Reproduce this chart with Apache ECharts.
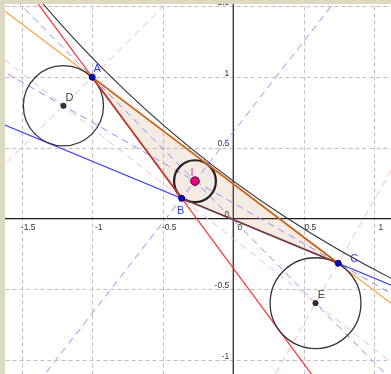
<!DOCTYPE html>
<html>
<head>
<meta charset="utf-8">
<script src="https://cdn.jsdelivr.net/npm/echarts@6/dist/echarts.min.js"></script>
<style>
html,body{margin:0;padding:0;background:#fff;}
#chart{width:391px;height:374px;}
</style>
</head>
<body>
<div id="chart"></div>
<script>
// ---- data ----
const xTicks = [-1.5, -1, -0.5, 0.5, 1];
const xTickLabels = ['-1.5', '-1', '-0.5', '0.5', '1'];
const yTicks = [1.5, 1, 0.5, -0.5, -1];
const yTickLabels = ['1.5', '1', '0.5', '-0.5', '-1'];

const pointA = [-1.0, 1.0];
const pointB = [-0.366, 0.144];
const pointC = [0.744, -0.315];
const centreI = [-0.2714, 0.2652];
const centreD = [-1.2039, 0.7979];
const centreE = [0.5831, -0.5967];
const centreJ = [4.7557, 6.7065];   // off-screen centre of the large circle

const radiusI = 0.1481;
const radiusD = 0.2841;
const radiusE = 0.3218;
const radiusJ = 8.0216;

const triangle = ['A', 'B', 'C'];
const internalBisectors = [['A', 'E'], ['B', 'J'], ['C', 'D']];
const externalBisectors = [['D', 'J'], ['D', 'E'], ['E', 'J']];
const lineAB = [['A', 'B']];
const lineAC = [['A', 'C']];
const lineBC = [['B', 'C']];
const blackCircles = [['D', radiusD], ['E', radiusE]];
const incircle = [['I', radiusI]];
const bigCircle = [['J', radiusJ]];
const bluePoints = ['A', 'B', 'C'];
const grayPoints = ['D', 'E'];
const pinkPoints = ['I'];

const P = {A: pointA, B: pointB, C: pointC, I: centreI, D: centreD, E: centreE, J: centreJ};

// ---- styles / positions ----
const labelOffset = {A: [5, -8], B: [-1, 13], C: [16, -4], D: [6, -8], E: [6, -8], I: [-3, -8]};
const labelFont = '11px "Liberation Sans", Arial, sans-serif';
const tickFont = '8.5px "Liberation Sans", Arial, sans-serif';
const XMIN = -1.618, XMAX = 1.118, YMIN = -1.0975, YMAX = 1.517;

function dummy(n) { const a = []; for (let i = 0; i < n; i++) a.push([0, 0]); return a; }

function lineSeries(pairs, color, width, dash, z) {
  return {
    type: 'custom', coordinateSystem: 'cartesian2d', clip: true, silent: true, z: z,
    data: dummy(pairs.length),
    renderItem: function (params, api) {
      const p = P[pairs[params.dataIndex][0]], q = P[pairs[params.dataIndex][1]];
      const dx = q[0] - p[0], dy = q[1] - p[1];
      const a = api.coord([p[0] - 40 * dx, p[1] - 40 * dy]);
      const b = api.coord([p[0] + 40 * dx, p[1] + 40 * dy]);
      return {type: 'line', shape: {x1: a[0], y1: a[1], x2: b[0], y2: b[1]},
        style: {stroke: color, lineWidth: width, lineDash: dash || null, fill: null}};
    }
  };
}

function circleSeries(list, color, width, z) {
  return {
    type: 'custom', coordinateSystem: 'cartesian2d', clip: true, silent: true, z: z,
    data: dummy(list.length),
    renderItem: function (params, api) {
      const it = list[params.dataIndex];
      const c = api.coord(P[it[0]]);
      const r = api.size([it[1], 0])[0];
      return {type: 'circle', shape: {cx: c[0], cy: c[1], r: r},
        style: {stroke: color, lineWidth: width, fill: 'none'}};
    }
  };
}

function pointSeries(names, fill, stroke, r, labelColor, z) {
  return {
    type: 'custom', coordinateSystem: 'cartesian2d', clip: false, silent: true, z: z,
    data: dummy(names.length),
    renderItem: function (params, api) {
      const n = names[params.dataIndex];
      const c = api.coord(P[n]);
      const off = labelOffset[n];
      return {type: 'group', children: [
        {type: 'circle', shape: {cx: c[0], cy: c[1], r: r}, style: {fill: fill, stroke: stroke, lineWidth: 1}},
        {type: 'text', x: c[0] + off[0], y: c[1] + off[1],
          style: {text: n, fill: labelColor, font: labelFont, align: 'center', verticalAlign: 'middle'}}
      ]};
    }
  };
}

const series = [];

// grid lines
series.push({
  type: 'custom', coordinateSystem: 'cartesian2d', clip: true, silent: true, z: 1,
  data: dummy(xTicks.length + yTicks.length),
  renderItem: function (params, api) {
    const i = params.dataIndex;
    let a, b;
    if (i < xTicks.length) { a = api.coord([xTicks[i], YMIN]); b = api.coord([xTicks[i], YMAX]); }
    else { const t = yTicks[i - xTicks.length]; a = api.coord([XMIN, t]); b = api.coord([XMAX, t]); }
    return {type: 'line', shape: {x1: Math.round(a[0]) + 0.5, y1: Math.round(a[1]) + 0.5, x2: Math.round(b[0]) + 0.5, y2: Math.round(b[1]) + 0.5},
      style: {stroke: '#c0c0c0', lineWidth: 1, lineDash: [4, 3]}};
  }
});
// axes
series.push({
  type: 'custom', coordinateSystem: 'cartesian2d', clip: true, silent: true, z: 2,
  data: dummy(2),
  renderItem: function (params, api) {
    let a, b;
    if (params.dataIndex === 0) { a = api.coord([XMIN, 0]); b = api.coord([XMAX, 0]); }
    else { a = api.coord([0, YMIN]); b = api.coord([0, YMAX]); }
    return {type: 'line', shape: {x1: a[0], y1: a[1], x2: b[0], y2: b[1]},
      style: {stroke: '#1a1a1a', lineWidth: 1.2}};
  }
});
// tick labels
series.push({
  type: 'custom', coordinateSystem: 'cartesian2d', clip: false, silent: true, z: 3,
  data: dummy(xTicks.length + yTicks.length + 2),
  renderItem: function (params, api) {
    const i = params.dataIndex;
    if (i < xTicks.length) {
      const c = api.coord([xTicks[i], 0]);
      return {type: 'text', x: c[0] + 6.5, y: c[1] + 9,
        style: {text: xTickLabels[i], fill: '#333', font: tickFont, align: 'center', verticalAlign: 'middle'}};
    } else if (i < xTicks.length + yTicks.length) {
      const k = i - xTicks.length;
      const c = api.coord([0, yTicks[k]]);
      return {type: 'text', x: c[0] - 4, y: c[1] - 4,
        style: {text: yTickLabels[k], fill: '#333', font: tickFont, align: 'right', verticalAlign: 'middle'}};
    } else if (i === xTicks.length + yTicks.length) {
      const c = api.coord([0, 0]);
      return {type: 'text', x: c[0] + 6.5, y: c[1] + 9,
        style: {text: '0', fill: '#333', font: tickFont, align: 'center', verticalAlign: 'middle'}};
    } else {
      const c = api.coord([0, 0]);
      return {type: 'text', x: c[0] - 4, y: c[1] - 4,
        style: {text: '0', fill: '#333', font: tickFont, align: 'right', verticalAlign: 'middle'}};
    }
  }
});
// triangle fill
series.push({
  type: 'custom', coordinateSystem: 'cartesian2d', clip: true, silent: true, z: 4,
  data: dummy(1),
  renderItem: function (params, api) {
    return {type: 'polygon', shape: {points: triangle.map(n => api.coord(P[n]))},
      style: {fill: 'rgba(200,130,75,0.16)', stroke: 'none'}};
  }
});
// dashed bisectors
series.push(lineSeries(externalBisectors, '#ffb4c2', 1, [7, 5], 5));
series.push(lineSeries(internalBisectors, '#8e8eff', 1, [7, 5], 6));
// solid lines
series.push(lineSeries(lineBC, '#3a3aff', 1.2, null, 7));
series.push(lineSeries(lineAB, '#ff3030', 1.2, null, 7));
series.push(lineSeries(lineAC, '#ffa040', 1.2, null, 7));
series.push(circleSeries(bigCircle, '#333333', 1.1, 8));
series.push(circleSeries(blackCircles, '#333333', 1.3, 8));
series.push(circleSeries(incircle, '#222222', 2.2, 8));
// triangle edges
series.push({
  type: 'custom', coordinateSystem: 'cartesian2d', clip: true, silent: true, z: 9,
  data: dummy(3),
  renderItem: function (params, api) {
    const cols = ['#c0362a', '#7a3a3a', '#c8641c'];
    const i = params.dataIndex;
    const a = api.coord(P[triangle[i]]), b = api.coord(P[triangle[(i + 1) % 3]]);
    return {type: 'line', shape: {x1: a[0], y1: a[1], x2: b[0], y2: b[1]},
      style: {stroke: cols[i], lineWidth: 1.7}};
  }
});
// points
series.push(pointSeries(grayPoints, '#333333', '#222222', 2.6, '#444444', 10));
series.push(pointSeries(bluePoints, '#0a0ac8', '#000060', 3, '#3a3aff', 10));
series.push(pointSeries(pinkPoints, '#e8007f', '#600030', 4.3, '#ff3399', 10));

const chart = echarts.init(document.getElementById('chart'), null, {renderer: 'canvas'});
chart.setOption({
  animation: false,
  backgroundColor: '#ffffff',
  grid: {left: 5, top: 4, right: 0, bottom: 0, containLabel: false},
  xAxis: {type: 'value', min: XMIN, max: XMAX, show: false, splitLine: {show: false}},
  yAxis: {type: 'value', min: YMIN, max: YMAX, show: false, splitLine: {show: false}},
  graphic: [
    {type: 'rect', left: 0, top: 0, z: 100, shape: {width: 391, height: 4}, style: {fill: '#dcd8c2'}},
    {type: 'rect', left: 0, top: 0, z: 100, shape: {width: 5, height: 374}, style: {fill: '#dcd8c2'}}
  ],
  series: series
});
</script>
</body>
</html>
